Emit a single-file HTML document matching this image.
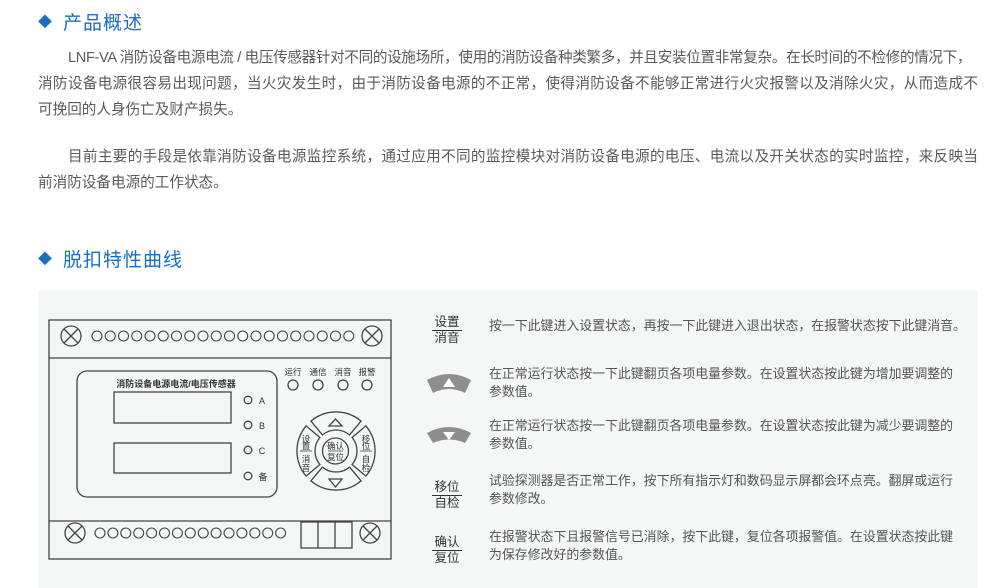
<!DOCTYPE html>
<html><head><meta charset="utf-8"><style>
body{margin:0;width:1000px;height:588px;background:#fff;position:relative;overflow:hidden;font-family:"Liberation Sans","Noto Sans CJK SC",sans-serif}
.h{position:absolute;left:38px;color:#1a6fc2;font-size:19px;font-weight:normal;letter-spacing:1px}
.h span{font-size:14px;margin-right:10px;position:relative;top:-2px}
.p{position:absolute;left:38px;width:940px;font-size:14.6px;color:#5a5a5a;line-height:26px;white-space:nowrap}
.j{text-align:justify;text-align-last:justify}
.panel{position:absolute;left:38px;top:290px;width:940px;height:298px;background:#f5f6f6}
.t{position:absolute;left:489px;font-size:12.9px;color:#555;line-height:18px;width:490px}
.lb{position:absolute;left:432px;width:30px;text-align:center;font-size:12.5px;color:#333;line-height:15px}
.lb i{display:block;border-top:1px solid #333;font-style:normal}
</style></head><body>
<div class="h" style="top:8px"><span>◆</span>产品概述</div>
<div class="p" style="top:45px;left:68px;width:910px;font-size:14.6px;letter-spacing:-0.35px;overflow:hidden">LNF-VA 消防设备电源电流 / 电压传感器针对不同的设施场所，使用的消防设备种类繁多，并且安装位置非常复杂。在长时间的不检修的情况下，</div>
<div class="p j" style="top:71px">消防设备电源很容易出现问题，当火灾发生时，由于消防设备电源的不正常，使得消防设备不能够正常进行火灾报警以及消除火灾，从而造成不</div>
<div class="p" style="top:97px">可挽回的人身伤亡及财产损失。</div>
<div class="p j" style="top:144px;padding-left:30px;width:910px">目前主要的手段是依靠消防设备电源监控系统，通过应用不同的监控模块对消防设备电源的电压、电流以及开关状态的实时监控，来反映当</div>
<div class="p" style="top:170px">前消防设备电源的工作状态。</div>
<div class="h" style="top:245px"><span>◆</span>脱扣特性曲线</div>
<div class="panel"></div>
<svg style="position:absolute;left:0;top:0" width="1000" height="588">
<g fill="none" stroke="#444" stroke-width="1.3">
<rect x="49" y="320" width="342" height="239"/>
<line x1="49" y1="358" x2="391" y2="358"/>
<line x1="49" y1="521" x2="391" y2="521"/>
<circle cx="71" cy="336" r="10"/><path d="M64,329L78,343M78,329L64,343"/>
<circle cx="372" cy="336" r="10"/><path d="M365,329L379,343M379,329L365,343"/>
<circle cx="75" cy="533" r="10"/><path d="M68,526L82,540M82,526L68,540"/>
<circle cx="370" cy="533" r="10"/><path d="M363,526L377,540M377,526L363,540"/>
<g stroke-width="1.1">
<circle cx="97" cy="336" r="5"/><circle cx="110.25" cy="336" r="5"/><circle cx="123.5" cy="336" r="5"/><circle cx="136.75" cy="336" r="5"/><circle cx="150" cy="336" r="5"/><circle cx="163.25" cy="336" r="5"/><circle cx="176.5" cy="336" r="5"/><circle cx="189.75" cy="336" r="5"/><circle cx="203" cy="336" r="5"/><circle cx="216.25" cy="336" r="5"/><circle cx="229.5" cy="336" r="5"/><circle cx="242.75" cy="336" r="5"/><circle cx="256" cy="336" r="5"/><circle cx="269.25" cy="336" r="5"/><circle cx="282.5" cy="336" r="5"/><circle cx="295.75" cy="336" r="5"/><circle cx="309" cy="336" r="5"/><circle cx="322.25" cy="336" r="5"/><circle cx="335.5" cy="336" r="5"/><circle cx="348.75" cy="336" r="5"/>
<circle cx="100" cy="533" r="5"/><circle cx="112.9" cy="533" r="5"/><circle cx="125.8" cy="533" r="5"/><circle cx="138.7" cy="533" r="5"/><circle cx="151.6" cy="533" r="5"/><circle cx="164.5" cy="533" r="5"/><circle cx="177.4" cy="533" r="5"/><circle cx="190.3" cy="533" r="5"/><circle cx="203.2" cy="533" r="5"/><circle cx="216.1" cy="533" r="5"/><circle cx="229" cy="533" r="5"/><circle cx="241.9" cy="533" r="5"/><circle cx="254.8" cy="533" r="5"/><circle cx="267.7" cy="533" r="5"/><circle cx="280.6" cy="533" r="5"/>
</g>
<rect x="301" y="522" width="51" height="26"/><line x1="318" y1="522" x2="318" y2="548"/><line x1="335" y1="522" x2="335" y2="548"/>
<rect x="77" y="371" width="200" height="126" rx="10"/>
<rect x="114" y="392" width="117" height="31"/>
<rect x="114" y="443" width="117" height="30"/>
<circle cx="248" cy="400" r="3.8"/><circle cx="248" cy="425" r="3.8"/><circle cx="248" cy="450" r="3.8"/><circle cx="248" cy="476" r="3.8"/>
<circle cx="293" cy="385" r="5"/><circle cx="318" cy="385" r="5"/><circle cx="343" cy="385" r="5"/><circle cx="367" cy="385" r="5"/>
<path d="M310.9,421.1 A39,39 0 0 1 361.1,421.1 L349.5,434.9 A21,21 0 0 0 322.5,434.9 Z"/>
<path d="M310.9,480.9 A39,39 0 0 0 361.1,480.9 L349.5,467.1 A21,21 0 0 1 322.5,467.1 Z"/>
<path d="M306.1,425.9 A39,39 0 0 0 306.1,476.1 L319.9,464.5 A21,21 0 0 1 319.9,437.5 Z"/>
<path d="M365.9,425.9 A39,39 0 0 1 365.9,476.1 L352.1,464.5 A21,21 0 0 0 352.1,437.5 Z"/>
<circle cx="335.5" cy="451" r="13"/>
<path d="M329,426 L342,426 L335.5,419 Z"/><path d="M329,479 L342,479 L335.5,487 Z"/>
<line x1="300" y1="451" x2="312" y2="451" stroke-width="0.8"/><line x1="360" y1="451" x2="372" y2="451" stroke-width="0.8"/><line x1="328" y1="451" x2="343" y2="451" stroke-width="0.8"/>
</g>
<g font-size="8.5" fill="#333" font-family="Liberation Sans,Noto Sans CJK SC,sans-serif" text-anchor="middle">
<text x="176" y="387" font-size="9" font-weight="bold">消防设备电源电流/电压传感器</text>
<text x="262" y="404" font-size="9">A</text><text x="262" y="429" font-size="9">B</text><text x="262" y="454" font-size="9">C</text><text x="263" y="480" font-size="9">备</text>
<text x="293" y="375">运行</text><text x="318" y="375">通信</text><text x="343" y="375">消音</text><text x="367" y="375">报警</text>
<text x="306" y="442">设</text><text x="306" y="449">置</text><text x="306" y="462">消</text><text x="306" y="471">音</text>
<text x="366" y="442">移</text><text x="366" y="449">位</text><text x="366" y="462">自</text><text x="366" y="471">检</text>
<text x="335.5" y="449">确认</text><text x="335.5" y="460">复位</text>
</g>
<path d="M427,380 Q449,368 471,380 L465,393 Q449,385 433,393 Z" fill="#8e8e8e"/>
<path d="M443,387 L455,387 L449,378 Z" fill="#fff"/>
<path d="M427,433 Q449,421 471,433 L465,443 Q449,436 433,443 Z" fill="#8e8e8e"/>
<path d="M443,432 L455,432 L449,440 Z" fill="#fff"/>
</svg>
<div class="lb" style="top:315px">设置<i>消音</i></div>
<div class="lb" style="top:480px">移位<i>自检</i></div>
<div class="lb" style="top:535px">确认<i>复位</i></div>
<div class="t" style="top:317px">按一下此键进入设置状态，再按一下此键进入退出状态，在报警状态按下此键消音。</div>
<div class="t" style="top:365px">在正常运行状态按一下此键翻页各项电量参数。在设置状态按此键为增加要调整的<br>参数值。</div>
<div class="t" style="top:417px">在正常运行状态按一下此键翻页各项电量参数。在设置状态按此键为减少要调整的<br>参数值。</div>
<div class="t" style="top:472px">试验探测器是否正常工作，按下所有指示灯和数码显示屏都会环点亮。翻屏或运行<br>参数修改。</div>
<div class="t" style="top:528px">在报警状态下且报警信号已消除，按下此键，复位各项报警值。在设置状态按此键<br>为保存修改好的参数值。</div>
</body></html>
